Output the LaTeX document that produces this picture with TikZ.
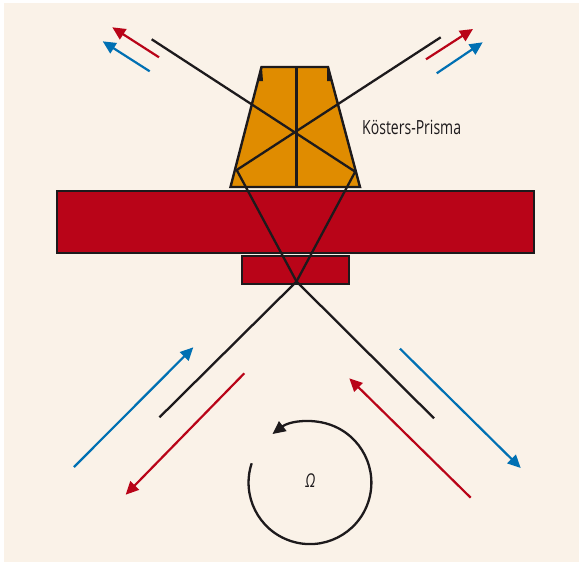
\documentclass[tikz,border=0pt]{standalone}
\usepackage{fontspec}
\usetikzlibrary{arrows.meta}
\newfontfamily\labelfont[FakeStretch=0.72]{Open Sans}
\definecolor{creambg}{HTML}{FAF2E8}
\definecolor{prismred}{HTML}{B90418}
\definecolor{prismorange}{HTML}{E08C00}
\definecolor{beamblue}{HTML}{0070B3}
\definecolor{inkblack}{HTML}{1D1A1C}
\tikzset{
  body/.style={draw=inkblack,line width=2.4pt,line join=miter},
  ray/.style={draw=inkblack,line width=2.3pt},
  redbeam/.style={draw=prismred,line width=2.2pt,-{Triangle[length=13pt,width=12pt]},prismred},
  bluebeam/.style={draw=beamblue,line width=2.2pt,-{Triangle[length=13pt,width=12pt]},beamblue},
}
\begin{document}
\begin{tikzpicture}[x=1pt,y=-1pt]
\useasboundingbox (0,0) rectangle (580,562);
\fill[creambg] (4,3) rectangle (579,562);
% prism
\filldraw[body,fill=prismorange] (261.5,67) -- (328,67) -- (360,187) -- (230.5,187) -- cycle;
\fill[inkblack] (262,68) -- (263,81) -- (257.5,81) -- cycle;
\fill[inkblack] (327,68) -- (327,81) -- (332.5,81) -- cycle;
\coordinate (ptop) at (296.5,67);
\coordinate (pbot) at (296.5,187);
\draw[ray] (ptop) -- (pbot);
% plates
\node[body,fill=prismred,minimum width=477pt,minimum height=62pt,inner sep=0pt,outer sep=0pt,anchor=north west] (plate) at (57,190.7) {};
\node[body,fill=prismred,minimum width=107pt,minimum height=28pt,inner sep=0pt,outer sep=0pt,anchor=north west] (sample) at (241.7,255.7) {};
% rays
\coordinate (tl) at (151.7,39.3);
\coordinate (tr) at (440.7,37.3);
\coordinate (br) at (355.2,171.7);
\coordinate (bl) at (236.7,170);
\coordinate (x) at (296.5,281.5);
\coordinate (ll) at (159.5,417.3);
\coordinate (lr) at (434,418.3);
\draw[ray,line join=miter] (tl) -- (br) -- (x) -- (ll);
\draw[ray,line join=miter] (tr) -- (bl) -- (x) -- (lr);
% beams
\draw[redbeam] (159,57.3) -- (112.3,27.3);
\draw[bluebeam] (149.7,71.3) -- (102.7,41.3);
\draw[redbeam] (426,59.3) -- (473,29);
\draw[bluebeam] (436.7,73.3) -- (482.7,42.3);
\draw[bluebeam] (74,467) -- (193.3,347.3);
\draw[redbeam] (244.3,373.3) -- (125.7,494.7);
\draw[bluebeam] (400,348.7) -- (520.7,468);
\draw[redbeam] (470.7,497.7) -- (349.3,378.3);
% rotation
\coordinate (rotstart) at (251.7,463.3);
\draw[ray,-{Triangle[length=13pt,width=12pt]}] (rotstart) arc[start angle=161.6,end angle=487.6,radius=61.4pt];
% labels
\node[inner sep=0pt,anchor=west,text=inkblack,font=\labelfont\fontsize{19.5}{21}\selectfont] (prismlabel) at (362,127) {Kösters-Prisma};
\node[inner sep=0pt,text=inkblack,font=\labelfont\itshape\fontsize{19}{20}\selectfont] (omega) at (310.5,481) {Ω};
\end{tikzpicture}
\end{document}
